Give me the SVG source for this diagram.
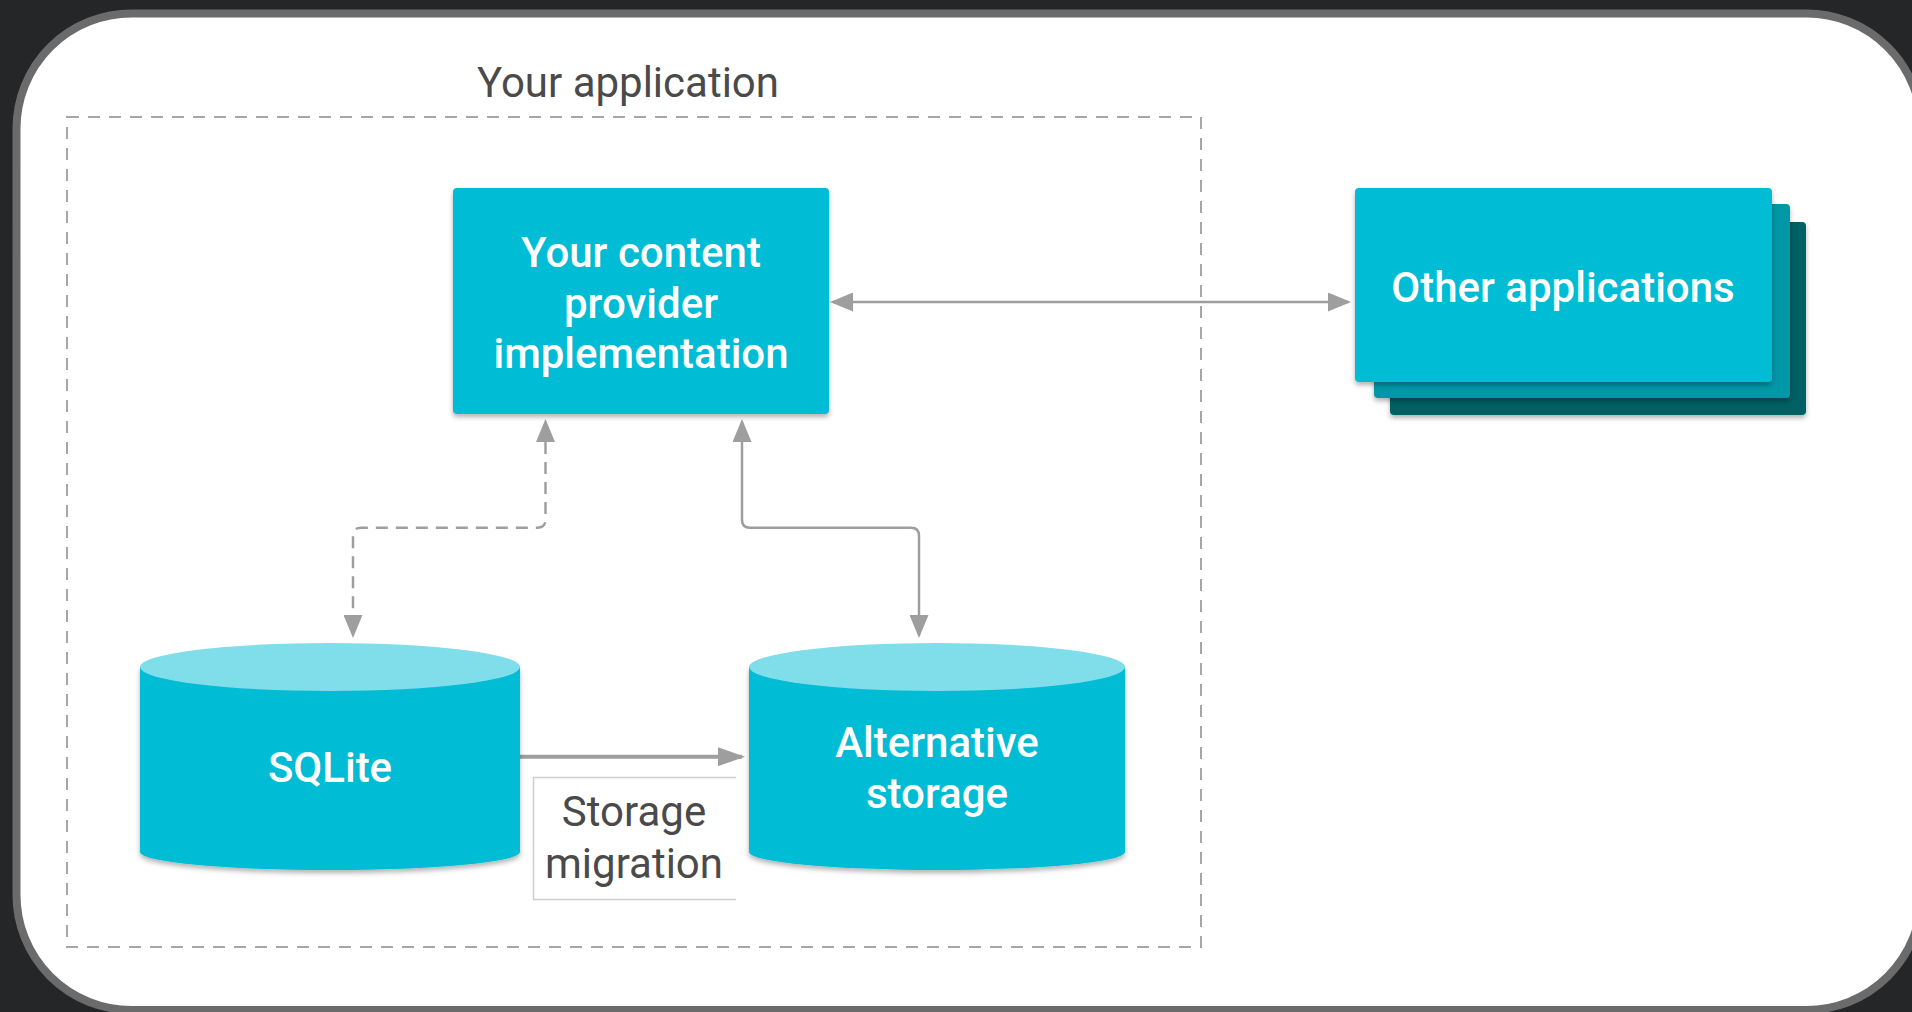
<svg xmlns="http://www.w3.org/2000/svg" width="1912" height="1012" viewBox="0 0 1912 1012">
  <style>
    .node-label { font-family: Roboto, "Liberation Sans", sans-serif; font-size: 42px; font-weight: 500; fill: #ffffff; text-anchor: middle; }
    .plain-label { font-family: Roboto, "Liberation Sans", sans-serif; font-size: 42px; font-weight: 400; fill: #4a4a4a; text-anchor: middle; }
    .conn { fill: none; stroke: #9e9e9e; stroke-width: 2.5; }
    .conn-dash { stroke-dasharray: 12 8; }
    .cyl-body { fill: #00bcd4; }
    .cyl-top { fill: #80deea; }
  </style>
  <defs>
    <filter id="shadow" x="-10%" y="-10%" width="120%" height="130%">
      <feDropShadow dx="0" dy="3" stdDeviation="2.5" flood-color="#000000" flood-opacity="0.3"/>
    </filter>
    <marker id="head" viewBox="0 0 23 19" refX="20" refY="9.5" markerWidth="23" markerHeight="19" markerUnits="userSpaceOnUse" orient="auto-start-reverse">
      <path d="M0 0 L23 9.5 L0 19 Z" fill="#9e9e9e"/>
    </marker>
    <marker id="head-wide" viewBox="0 0 27 19" refX="24" refY="9.5" markerWidth="27" markerHeight="19" markerUnits="userSpaceOnUse" orient="auto">
      <path d="M0 0 L27 9.5 L0 19 Z" fill="#9e9e9e"/>
    </marker>
  </defs>

  <!-- page background and card -->
  <rect x="0" y="0" width="1912" height="1012" fill="#252628"/>
  <rect x="16.5" y="13.5" width="1905" height="996.5" rx="115" ry="115" fill="#ffffff" stroke="#6b6b6b" stroke-width="8"/>

  <!-- application boundary -->
  <g id="your-application">
    <rect x="67" y="117" width="1134" height="830" fill="none" stroke="#a6a6a6" stroke-width="2" stroke-dasharray="12 9"/>
    <text class="plain-label" x="628" y="97" fill="#444444">Your application</text>
  </g>

  <!-- connectors -->
  <g id="connectors">
    <path class="conn" d="M833 302 H1348" marker-start="url(#head)" marker-end="url(#head)"/>
    <path class="conn conn-dash" d="M545.5 422 V519.7 Q545.5 527.7 537.5 527.7 H361 Q353 527.7 353 535.7 V635" marker-start="url(#head)" marker-end="url(#head)"/>
    <path class="conn" d="M742 422 V519.7 Q742 527.7 750 527.7 H911 Q919 527.7 919 535.7 V635" marker-start="url(#head)" marker-end="url(#head)"/>
    <path class="conn" style="stroke-width:4" d="M520 756.7 H742" marker-end="url(#head-wide)"/>
  </g>

  <!-- content provider -->
  <g id="content-provider">
    <rect x="453" y="188" width="376" height="226" rx="4" fill="#00bcd4" filter="url(#shadow)"/>
    <text class="node-label" x="641" y="267">Your content</text>
    <text class="node-label" x="641" y="318">provider</text>
    <text class="node-label" x="641" y="368">implementation</text>
  </g>

  <!-- other applications (stacked) -->
  <g id="other-applications">
    <rect x="1390" y="222" width="416" height="193" rx="4" fill="#006064" filter="url(#shadow)"/>
    <rect x="1374" y="204" width="416" height="194" rx="4" fill="#0097a7" filter="url(#shadow)"/>
    <rect x="1355" y="188" width="417" height="194" rx="4" fill="#00bcd4" filter="url(#shadow)"/>
    <text class="node-label" x="1563" y="302">Other applications</text>
  </g>

  <!-- SQLite -->
  <g id="sqlite">
    <path class="cyl-body" filter="url(#shadow)" d="M140 667 V852 A190 18 0 0 0 520 852 V667 Z"/>
    <ellipse class="cyl-top" cx="330" cy="667" rx="190" ry="24"/>
    <text class="node-label" x="330" y="782">SQLite</text>
  </g>

  <!-- alternative storage -->
  <g id="alternative-storage">
    <path class="cyl-body" filter="url(#shadow)" d="M749 667 V852 A188 18 0 0 0 1125 852 V667 Z"/>
    <ellipse class="cyl-top" cx="937" cy="667" rx="188" ry="24"/>
    <text class="node-label" x="937" y="757">Alternative</text>
    <text class="node-label" x="937" y="808">storage</text>
  </g>

  <!-- migration label -->
  <g id="storage-migration">
    <path d="M736 777.5 H533.5 V899.5 H736" fill="none" stroke="#cfcfcf" stroke-width="1.5"/>
    <text class="plain-label" x="634" y="826">Storage</text>
    <text class="plain-label" x="634" y="878">migration</text>
  </g>
</svg>
